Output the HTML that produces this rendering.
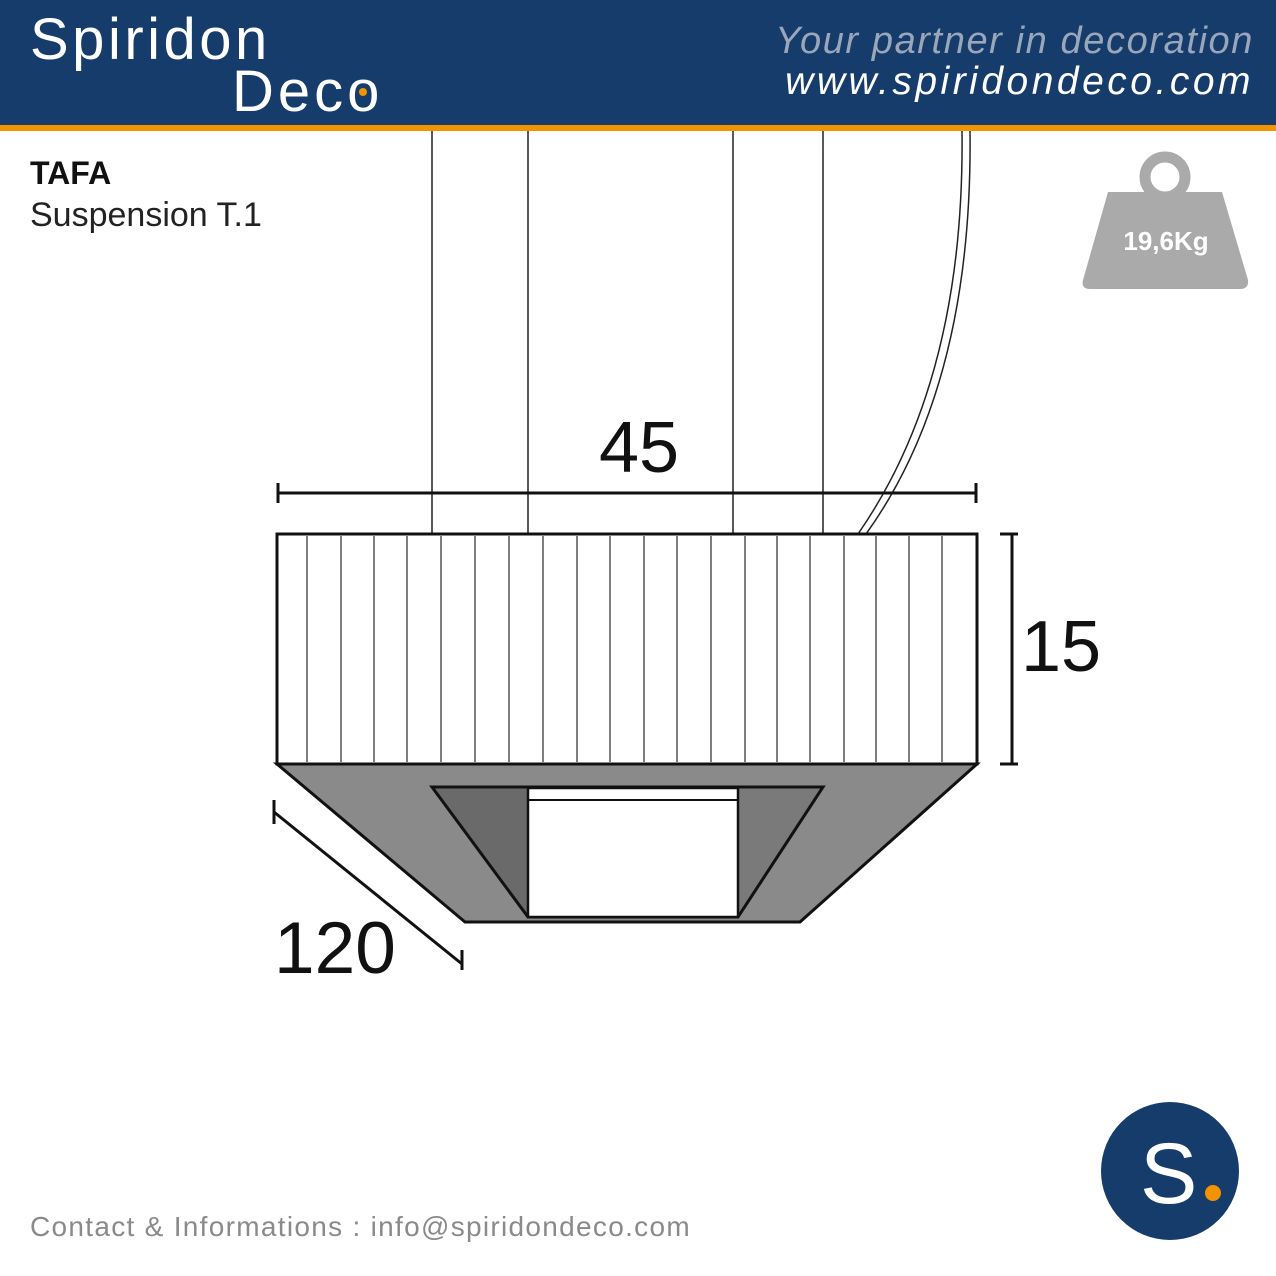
<!DOCTYPE html>
<html><head><meta charset="utf-8"><style>
body{margin:0;width:1276px;height:1276px;background:#fff;position:relative;overflow:hidden;font-family:"Liberation Sans",sans-serif}
.t{position:absolute;white-space:nowrap}
</style></head><body>
<div style="position:absolute;left:0;top:0;width:1276px;height:125px;background:#163c6c"></div>
<div style="position:absolute;left:0;top:125px;width:1276px;height:6px;background:#f29400"></div>
<div class="t" style="left:30px;top:6px;font-size:58px;color:#fff;letter-spacing:3.5px">Spiridon</div>
<div class="t" style="left:232px;top:58px;font-size:58px;color:#fff;letter-spacing:4px">Deco</div>
<div style="position:absolute;left:359px;top:88px;width:8px;height:8px;border-radius:50%;background:#f29400"></div>
<div class="t" style="right:22px;top:20px;font-size:38px;color:#9aa7bb;font-style:italic;letter-spacing:1.6px">Your partner in decoration</div>
<div class="t" style="right:22px;top:60px;font-size:39px;color:#fff;font-style:italic;letter-spacing:3.5px">www.spiridondeco.com</div>
<div class="t" style="left:30px;top:155px;font-size:32px;font-weight:bold;color:#111">TAFA</div>
<div class="t" style="left:30px;top:196px;font-size:34px;color:#222">Suspension T.1</div>
<svg width="1276" height="1276" style="position:absolute;left:0;top:0">
<g fill="#aaa">
<circle cx="1165" cy="177" r="20" fill="none" stroke="#aaa" stroke-width="11"/>
<path d="M1108 192 H1222 L1248 280 Q1249 289 1240 289 H1090 Q1081 289 1083 280 Z"/>
</g>
<text x="1166" y="250" font-size="26" font-weight="bold" fill="#fff" text-anchor="middle" font-family="Liberation Sans">19,6Kg</text>
<g stroke="#222" stroke-width="1.5">
<line x1="432" y1="131" x2="432" y2="534"/><line x1="528" y1="131" x2="528" y2="534"/>
<line x1="733" y1="131" x2="733" y2="534"/><line x1="823" y1="131" x2="823" y2="534"/>
<path d="M962 131 Q965 380 858 534" fill="none"/><path d="M970 131 Q973 385 866 534" fill="none"/>
</g>
<g stroke="#111" stroke-width="3">
<line x1="278" y1="493" x2="976" y2="493"/><line x1="278" y1="483" x2="278" y2="503"/><line x1="976" y1="483" x2="976" y2="503"/>
<line x1="1012" y1="534" x2="1012" y2="764"/><line x1="1000" y1="534" x2="1018" y2="534"/><line x1="1000" y1="764" x2="1018" y2="764"/>
<line x1="274" y1="812" x2="462" y2="964"/><line x1="274" y1="800" x2="274" y2="824"/><line x1="462" y1="950" x2="462" y2="970"/>
</g>
<rect x="277" y="534" width="700" height="230" fill="#fff" stroke="#111" stroke-width="3"/>
<g stroke="#555" stroke-width="1.5">
<line x1="307" y1="536" x2="307" y2="762"/><line x1="341" y1="536" x2="341" y2="762"/><line x1="374" y1="536" x2="374" y2="762"/><line x1="407" y1="536" x2="407" y2="762"/><line x1="441" y1="536" x2="441" y2="762"/><line x1="475" y1="536" x2="475" y2="762"/><line x1="509" y1="536" x2="509" y2="762"/><line x1="543" y1="536" x2="543" y2="762"/><line x1="577" y1="536" x2="577" y2="762"/><line x1="610" y1="536" x2="610" y2="762"/><line x1="644" y1="536" x2="644" y2="762"/><line x1="677" y1="536" x2="677" y2="762"/><line x1="711" y1="536" x2="711" y2="762"/><line x1="745" y1="536" x2="745" y2="762"/><line x1="777" y1="536" x2="777" y2="762"/><line x1="810" y1="536" x2="810" y2="762"/><line x1="844" y1="536" x2="844" y2="762"/><line x1="876" y1="536" x2="876" y2="762"/><line x1="909" y1="536" x2="909" y2="762"/><line x1="942" y1="536" x2="942" y2="762"/>
</g>
<path d="M277 764 H977 L800 922 H465 Z" fill="#8a8a8a" stroke="#111" stroke-width="3"/>
<path d="M432 787 H823 L738 917 H528 Z" fill="#7a7a7a"/>
<path d="M432 787 L528 787 L528 917 Z" fill="#6a6a6a"/>
<path d="M432 787 H823 L738 917 H528 Z" fill="none" stroke="#111" stroke-width="3"/>
<rect x="528" y="788" width="210" height="129" fill="#fff" stroke="#111" stroke-width="2.5"/>
<line x1="528" y1="800" x2="738" y2="800" stroke="#111" stroke-width="2"/>
<text x="639" y="472" font-size="72" fill="#111" text-anchor="middle" font-family="Liberation Sans">45</text>
<text x="1021" y="671" font-size="72" fill="#111" font-family="Liberation Sans">15</text>
<text x="274" y="973" font-size="73" fill="#111" font-family="Liberation Sans">120</text>
<circle cx="1170" cy="1171" r="69" fill="#163c6c"/>
<text x="1140" y="1203" font-size="86" fill="#fff" font-family="Liberation Sans">S</text>
<circle cx="1213" cy="1193" r="8" fill="#f29400"/>
</svg>
<div class="t" style="left:30px;top:1211px;font-size:28px;color:#8a8a8a;letter-spacing:1.3px">Contact &amp; Informations : info@spiridondeco.com</div>
</body></html>
